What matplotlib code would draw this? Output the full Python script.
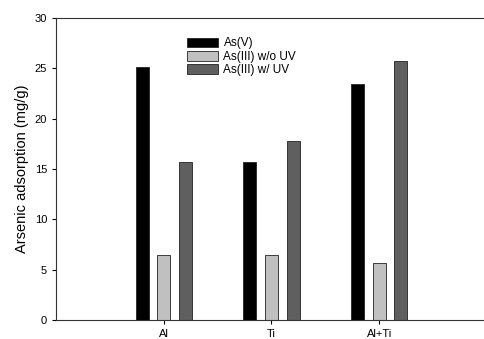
import numpy as np
import matplotlib.pyplot as plt

plt.rcParams['font.family'] = ['Liberation Sans', 'DejaVu Sans']

categorias = ['Al', 'Ti', 'Al+Ti']
as_v = [25.1, 15.7, 23.4]
as_iii_sem_uv = [6.45, 6.45, 5.7]
as_iii_com_uv = [15.7, 17.8, 25.7]
series = ['As(V)', 'As(III) w/o UV', 'As(III) w/ UV']

cores = ['#000000', '#c0c0c0', '#5f5f5f']
x = np.arange(1, len(categorias) + 1)
largura = 0.12
desloc = 0.2

fig = plt.figure(figsize=(4.85, 3.39), dpi=100)
ax = fig.add_axes([56 / 485, 1 - 320 / 339, 431 / 485, 302 / 339])

for i, (vals, nome) in enumerate(zip([as_v, as_iii_sem_uv, as_iii_com_uv], series)):
    ax.bar(x + (i - 1) * desloc, vals, width=largura, color=cores[i],
           edgecolor='#222222', linewidth=0.6, label=nome)

ax.set_xlim(0, 4)
ax.set_ylim(0, 30)
ax.set_xticks(x)
ax.set_xticklabels(categorias)
ax.set_yticks(range(0, 31, 5))
ax.tick_params(labelsize=8, length=3, width=0.8, direction='out')
ax.set_ylabel('Arsenic adsorption (mg/g)', fontsize=10.5)
for s in ax.spines.values():
    s.set_linewidth(0.8)
    s.set_color('#333333')
ax.spines['right'].set_visible(False)

ax.legend(loc='upper left', bbox_to_anchor=(0.29, 0.955), frameon=False,
          fontsize=8.5, handlelength=2.6, handleheight=0.9, labelspacing=0.12,
          handletextpad=0.5, borderpad=0)

fig.savefig('out.png', dpi=100)
